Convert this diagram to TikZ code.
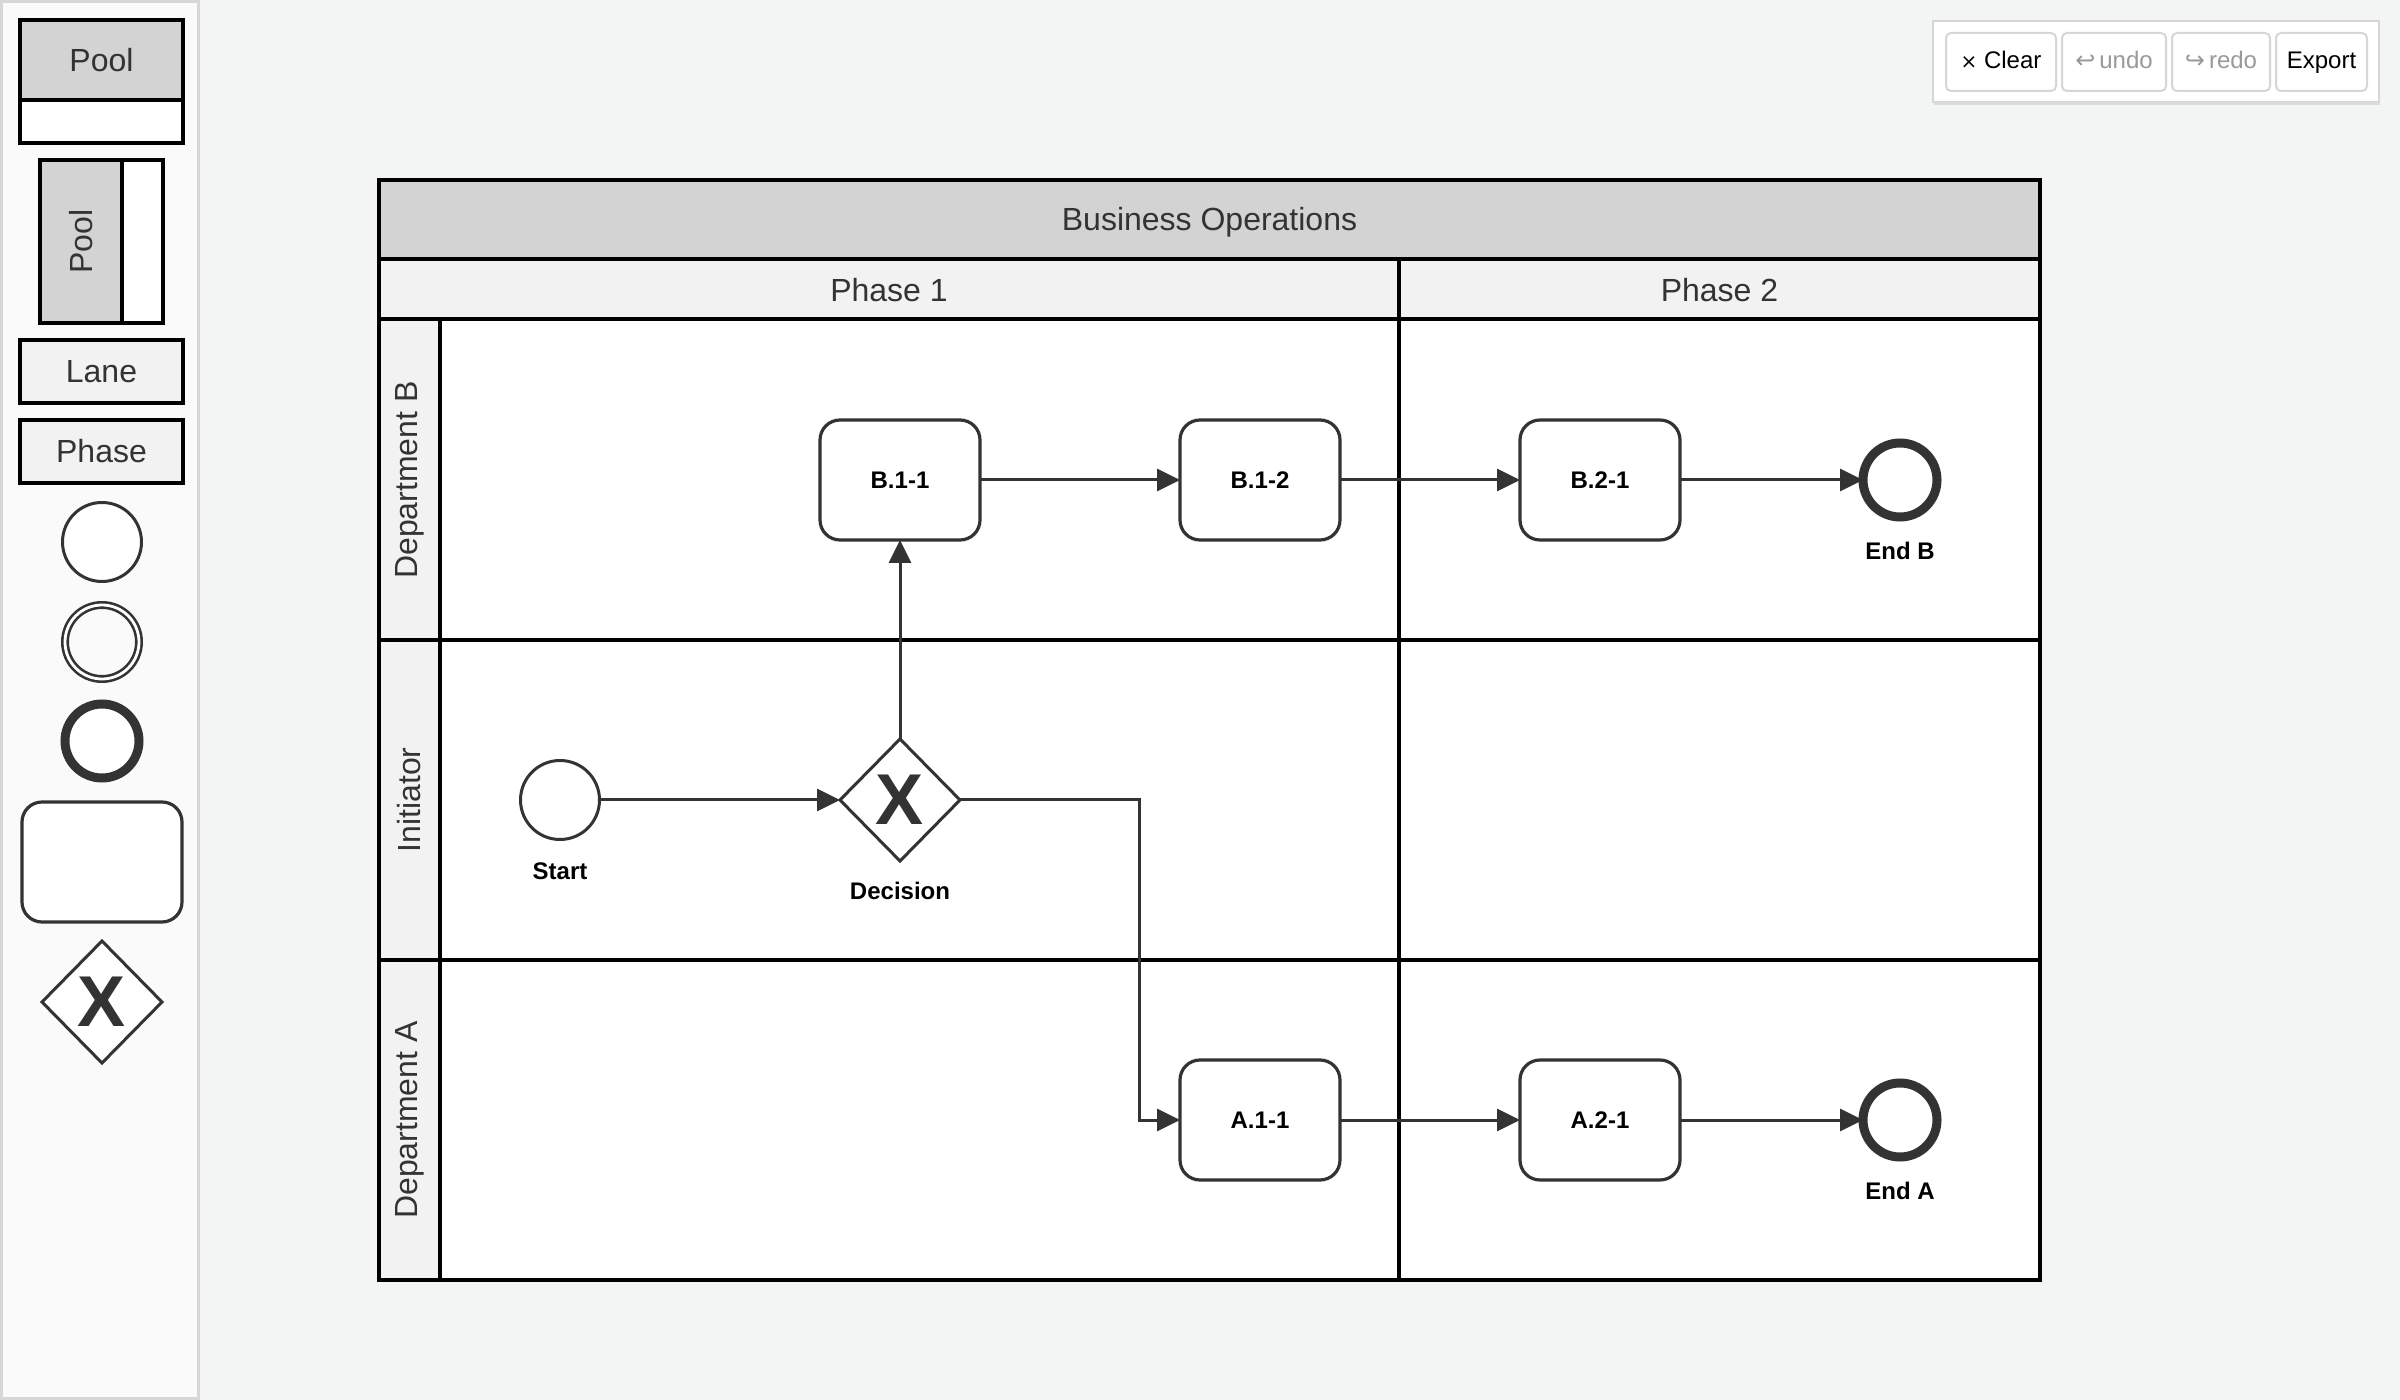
\documentclass[tikz,border=0pt]{standalone}
\usepackage{fontspec}
\setmainfont{Liberation Sans}
\newfontfamily\symfont{DejaVu Sans}
\usetikzlibrary{shapes.geometric,arrows.meta}
\definecolor{PageClr}{rgb}{0.953,0.961,0.957}
\definecolor{BarClr}{rgb}{0.98,0.98,0.98}
\definecolor{BarLine}{rgb}{0.84,0.84,0.84}
\definecolor{HeadClr}{rgb}{0.827,0.827,0.827}
\definecolor{LaneClr}{rgb}{0.949,0.949,0.949}
\definecolor{InkClr}{rgb}{0.2,0.2,0.2}
\definecolor{MuteClr}{rgb}{0.6,0.6,0.6}

\begin{document}
\begin{tikzpicture}[x=0.5pt,y=-0.5pt,
  lbl/.style={text=InkClr,inner sep=0pt,font=\fontsize{16}{19}\selectfont},
  evlbl/.style={text=black,inner sep=0pt,font=\bfseries\fontsize{12}{14}\selectfont},
  box/.style={draw=black,line width=2pt,fill=LaneClr,minimum width=81.5pt,minimum height=31.5pt,inner sep=0pt,outer sep=0pt,text=InkClr,font=\fontsize{16}{19}\selectfont},
  task/.style={draw=InkClr,line width=1.6pt,rounded corners=10pt,fill=white,minimum width=80pt,minimum height=60pt,inner sep=0pt,outer sep=0pt,text=black,font=\bfseries\fontsize{12}{14}\selectfont},
  startev/.style={circle,draw=InkClr,line width=1.5pt,fill=white,minimum size=39.5pt,inner sep=0pt,outer sep=0pt},
  interev/.style={circle,draw=InkClr,line width=1.3pt,double=white,double distance=1.4pt,minimum size=37pt,inner sep=0pt,outer sep=0pt},
  endev/.style={circle,draw=InkClr,line width=4.5pt,fill=white,minimum size=37pt,inner sep=0pt,outer sep=0pt},
  gateway/.style={diamond,draw=InkClr,line width=1.5pt,fill=white,minimum width=60pt,minimum height=61pt,inner sep=0pt,outer sep=0pt,text=InkClr,font=\bfseries\fontsize{36}{40}\selectfont},
  flow/.style={draw=InkClr,line width=1.5pt,-{Triangle[length=11.5pt,width=11pt]}},
  btn/.style={draw=BarLine,line width=1pt,rounded corners=2.5pt,fill=white,minimum height=29pt,inner sep=0pt,text height=8.6pt,text depth=2.5pt,font=\fontsize{12}{14}\selectfont}]

\useasboundingbox (0,0) rectangle (2400,1400);
\fill[PageClr] (0,0) rectangle (2400,1400);

\draw[BarLine,fill=BarClr,line width=1.5pt] (1.5,1.5) rectangle (198,1398.5);
\draw[line width=2pt,fill=white] (20,20) rectangle (183,143);
\draw[line width=2pt,fill=HeadClr] (20,20) rectangle (183,100);
\node[lbl] (plPool) at (101.5,60) {Pool};
\draw[line width=2pt,fill=white] (40,160) rectangle (163,323);
\draw[line width=2pt,fill=HeadClr] (40,160) rectangle (122,323);
\node[lbl,rotate=90] (plVPool) at (81,241.5) {Pool};
\node[box] (plLane) at (101.5,371.5) {Lane};
\node[box] (plPhase) at (101.5,451.5) {Phase};
\node[startev] (plStart) at (102,542) {};
\node[interev] (plInter) at (102,642) {};
\node[endev] (plEnd) at (102,741) {};
\node[task] (plTask) at (102,862) {};
\node[gateway] (plGate) at (102,1002) {X};

\draw[BarLine,fill=white,line width=1pt] (1933,21) rectangle (2379,102);
\draw[black!14,line width=1.5pt] (1934,103.5) -- (2380,103.5);
\node[btn,minimum width=55pt,text=black] (clear) at (2001,62) {{\symfont\fontsize{10}{12}\selectfont ×}\ Clear};
\node[btn,minimum width=52pt,text=MuteClr] (undo) at (2114,62) {{\symfont ↩}\,undo};
\node[btn,minimum width=49pt,text=MuteClr] (redo) at (2221,62) {{\symfont ↪}\,redo};
\node[btn,minimum width=45.5pt,text=black] (export) at (2321.5,62) {Export};

\draw[line width=2pt,fill=white] (379,180) rectangle (2040,1280);
\draw[line width=2pt,fill=HeadClr] (379,180) rectangle (2040,259);
\draw[line width=2pt,fill=LaneClr] (379,259) rectangle (2040,319);
\draw[line width=2pt,fill=LaneClr] (379,319) rectangle (440,1280);
\draw[line width=2pt] (379,640) -- (2040,640) (379,960) -- (2040,960) (1399,259) -- (1399,1280);
\node[lbl] (title) at (1209.5,222) {Business Operations};
\node[lbl] (ph1) at (889,290) {Phase 1};
\node[lbl] (ph2) at (1719.5,290) {Phase 2};
\node[lbl,rotate=90] (laneB) at (409.5,480) {Department B};
\node[lbl,rotate=90] (laneI) at (409.5,800) {Initiator};
\node[lbl,rotate=90] (laneA) at (409.5,1120) {Department A};

\node[task] (b11) at (900,480) {B.1-1};
\node[task] (b12) at (1260,480) {B.1-2};
\node[task] (b21) at (1600,480) {B.2-1};
\node[endev] (endb) at (1900,480) {};
\node[startev] (start) at (560,800) {};
\node[gateway] (dec) at (900,800) {X};
\node[task] (a11) at (1260,1120) {A.1-1};
\node[task] (a21) at (1600,1120) {A.2-1};
\node[endev] (enda) at (1900,1120) {};
\node[evlbl] (startl) at (560,871) {Start};
\node[evlbl] (decl) at (900,891) {Decision};
\node[evlbl] (endbl) at (1900,551) {End B};
\node[evlbl] (endal) at (1900,1191) {End A};
\coordinate (bend) at (1139,800);

\draw[flow] (start) -- (dec);
\draw[flow] (dec) -- (b11);
\draw[flow] (dec.east) -- (bend) |- (a11);
\draw[flow] (b11) -- (b12);
\draw[flow] (b12) -- (b21);
\draw[flow] (b21) -- (endb);
\draw[flow] (a11) -- (a21);
\draw[flow] (a21) -- (enda);

\end{tikzpicture}
\end{document}
